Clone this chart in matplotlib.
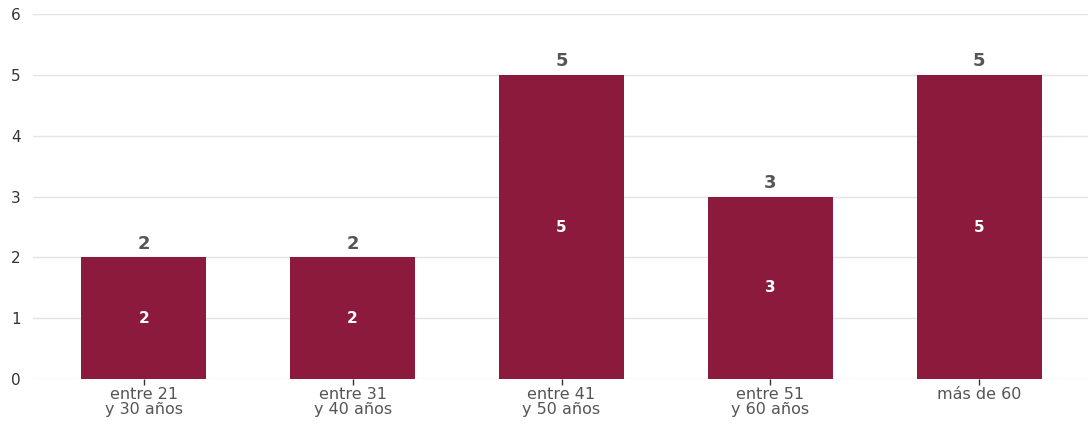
import matplotlib
matplotlib.use('Agg')
import matplotlib.pyplot as plt

# datos
categorias = ['entre 21\ny 30 años', 'entre 31\ny 40 años', 'entre 41\ny 50 años',
              'entre 51\ny 60 años', 'más de 60']
valores = [2, 2, 5, 3, 5]
y_ticks = [0, 1, 2, 3, 4, 5, 6]

color_barra = '#8B1A3D'
gris = '#555555'

fig = plt.figure(figsize=(10.88, 4.26), dpi=100)
ax = fig.add_axes([0.0303, 0.110, 0.9697, 0.857])

x = list(range(len(categorias)))
barras = ax.bar(x, valores, width=0.6, color=color_barra, zorder=3)

# etiquetas encima y dentro de las barras
for xi, v in zip(x, valores):
    ax.text(xi, v + 0.08, str(v), ha='center', va='bottom', fontsize=13,
            fontweight='bold', color=gris, zorder=4)
    ax.text(xi, v / 2, str(v), ha='center', va='center', fontsize=11,
            fontweight='bold', color='white', zorder=4)

ax.set_xlim(-0.53, 4.52)
ax.set_ylim(0, 6)
ax.set_yticks(y_ticks)
ax.set_xticks(x)
ax.set_xticklabels(categorias, fontsize=11.5, color=gris, linespacing=0.95)
ax.tick_params(axis='y', length=0, labelsize=11, labelcolor='#333333', pad=9)
ax.tick_params(axis='x', length=4, width=1, color='#333333', pad=2)

ax.grid(axis='y', color='#e3e3e3', linewidth=1, zorder=0)
for s in ax.spines.values():
    s.set_visible(False)

fig.savefig('out.png', dpi=100)
